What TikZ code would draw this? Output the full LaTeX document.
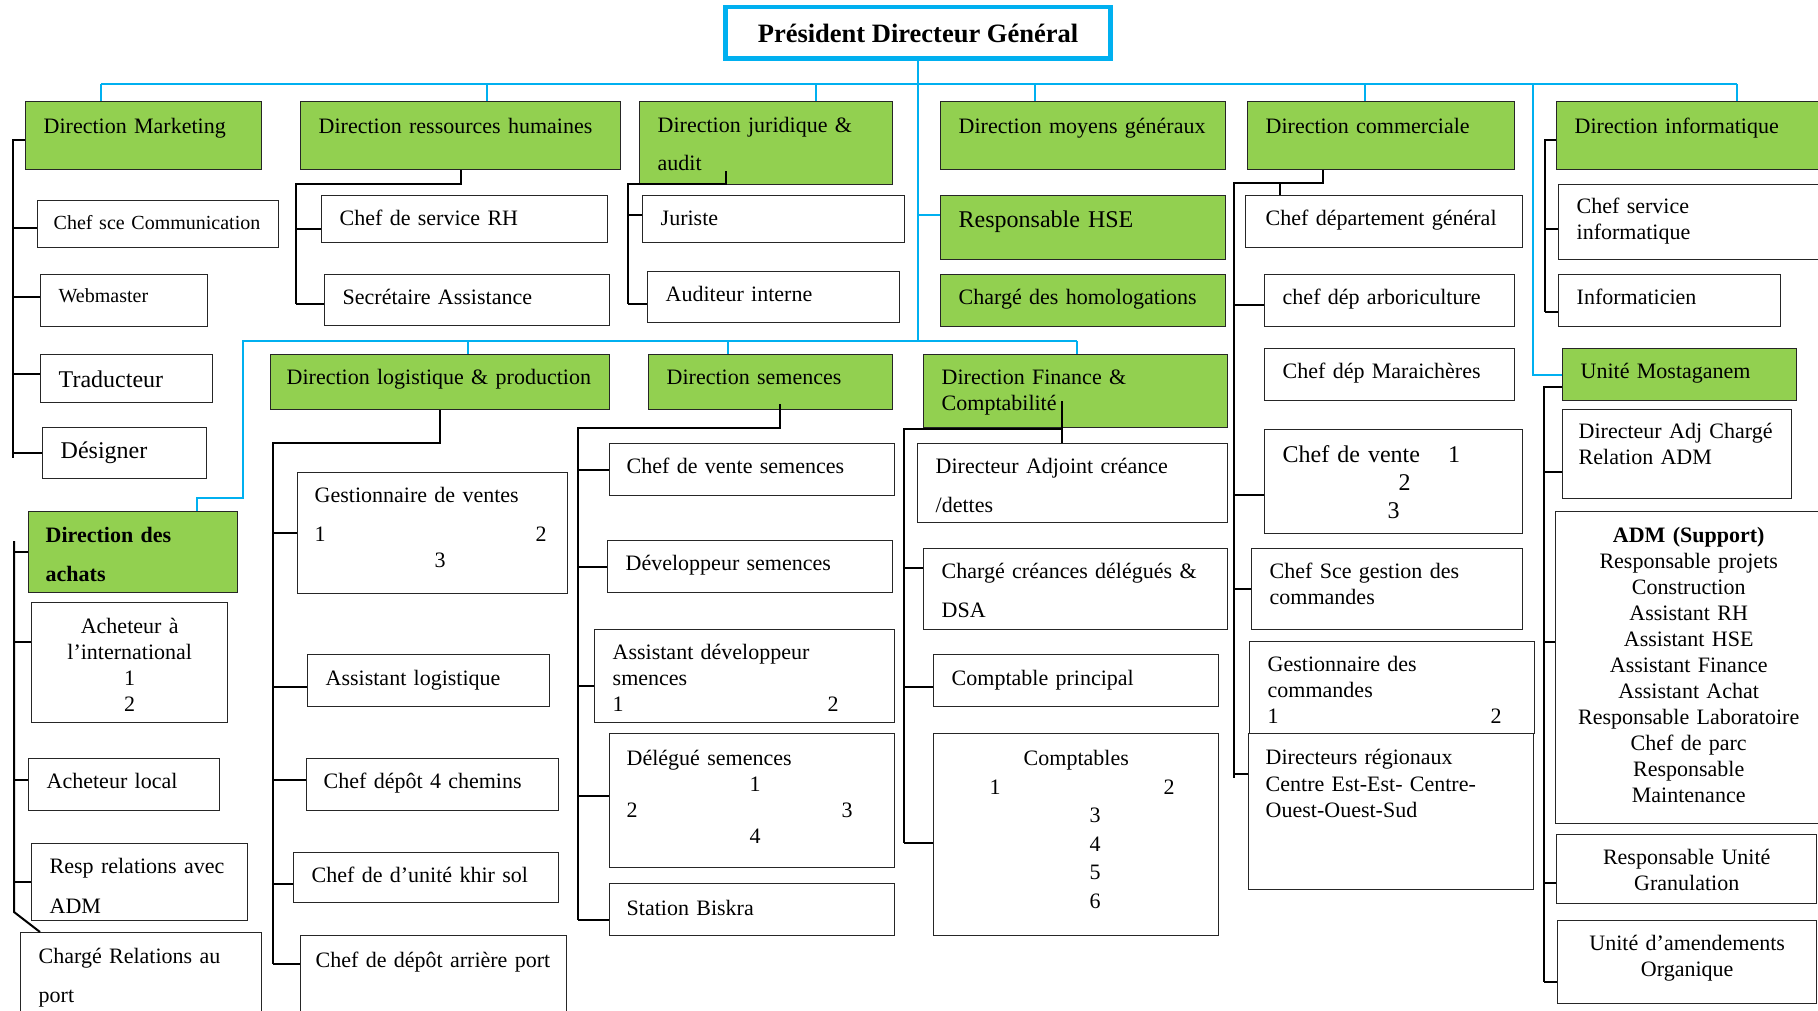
\documentclass[tikz,border=0pt]{standalone}
\usepackage{fontspec}
\setmainfont{Liberation Serif}
\definecolor{colorDir}{RGB}{146,208,80}
\definecolor{colorBleu}{RGB}{0,176,240}
\newcommand{\taille}[2]{\fontsize{#1}{#2}\selectfont}
\tikzstyle{poste} = [rectangle, draw=black!85, line width=1.4pt, fill=white, anchor=north west, align=left, inner xsep=18pt, inner ysep=0pt, font=\taille{22}{26}]
\tikzstyle{pole} = [poste, fill=colorDir]
\tikzstyle{chef} = [rectangle, draw=colorBleu, line width=4.5pt, fill=white, minimum width=385pt, minimum height=51.5pt, inner sep=0pt, font=\bfseries\taille{26.5}{30}]
\tikzstyle{lien} = [draw=black, line width=2pt]
\tikzstyle{lienbleu} = [draw=colorBleu, line width=2pt]

\begin{document}
\begin{tikzpicture}[x=1pt, y=-1pt]

	\useasboundingbox (0,0) rectangle (1818,1011);
	\fill[white] (0,0) rectangle (1818,1011);

	\node (pdg)[chef] at (918,33) {Président Directeur Général};

	% directions
	\node (mkt)[pole, text width=200pt, text height=32pt, text depth=36pt] at (25,101) {Direction Marketing};
	\node (rh)[pole, text width=284pt, text height=32pt, text depth=36pt] at (300,101) {Direction ressources humaines};
	\node (jur)[pole, text width=217pt, text height=31pt, text depth=52pt] at (639,101) {Direction juridique \&\\[12pt]audit};
	\node (moy)[pole, text width=249pt, text height=32pt, text depth=36pt] at (940,101) {Direction moyens généraux};
	\node (com)[pole, text width=231pt, text height=32pt, text depth=36pt] at (1247,101) {Direction commerciale};
	\node (info)[pole, text width=228pt, text height=32pt, text depth=36pt] at (1556,101) {Direction informatique};

	% marketing
	\node (comm)[poste, inner xsep=16pt, font=\taille{20}{24}, text width=209pt, text height=29pt, text depth=18pt] at (37,200) {Chef sce Communication};
	\node (web)[poste, font=\taille{20}{24}, text width=131pt, text height=28pt, text depth=24pt] at (40,274) {Webmaster};
	\node (trad)[poste, font=\taille{24}{28}, text width=136pt, text height=33pt, text depth=15pt] at (40,354) {Traducteur};
	\node (desi)[poste, font=\taille{24}{28}, text width=128pt, text height=31pt, text depth=20pt] at (42,427) {Désigner};

	% ressources humaines
	\node (csrh)[poste, text width=250pt, text height=30pt, text depth=17pt] at (321,195) {Chef de service RH};
	\node (sec)[poste, text width=249pt, text height=30pt, text depth=21pt] at (324,274) {Secrétaire Assistance};

	% juridique
	\node (juriste)[poste, text width=226pt, text height=30pt, text depth=17pt] at (642,195) {Juriste};
	\node (aud)[poste, text width=216pt, text height=30pt, text depth=21pt] at (647,271) {Auditeur interne};

	% moyens generaux
	\node (hse)[pole, font=\taille{24}{28}, text width=249pt, text height=32pt, text depth=32pt] at (940,195) {Responsable HSE};
	\node (homol)[pole, text width=249pt, text height=30pt, text depth=22pt] at (940,274) {Chargé des homologations};

	% commerciale
	\node (cdg)[poste, inner xsep=20pt, text width=237pt, text height=30pt, text depth=22pt] at (1245,195) {Chef département général};
	\node (arbo)[poste, text width=214pt, text height=30pt, text depth=22pt] at (1264,274) {chef dép arboriculture};
	\node (mara)[poste, text width=214pt, text height=30pt, text depth=22pt] at (1264,348) {Chef dép Maraichères};
	\node (cvte)[poste, font=\taille{24}{28}, text width=222pt, text height=33pt, text depth=71pt] at (1264,429) {Chef de vente\hspace*{28pt}1\\\hspace*{116pt}2\\\hspace*{105pt}3};
	\node (csgc)[poste, text width=235pt, text height=30pt, text depth=51pt] at (1251,548) {Chef Sce gestion des\\commandes};
	\node (gcom)[poste, text width=249pt, text height=30pt, text depth=62pt] at (1249,641) {Gestionnaire des\\commandes\\1\hspace*{212pt}2};
	\node (dreg)[poste, inner xsep=17pt, font=\taille{22}{26.5}, text width=251pt, text height=31pt, text depth=125pt] at (1248,733) {Directeurs régionaux\\Centre Est-Est- Centre-\\Ouest-Ouest-Sud};

	% informatique
	\node (csi)[poste, text width=224pt, text height=29pt, text depth=46pt] at (1558,184) {Chef service\\informatique};
	\node (infm)[poste, text width=186pt, text height=30pt, text depth=22pt] at (1558,274) {Informaticien};

	% unite mostaganem
	\node (most)[pole, text width=198pt, text height=30pt, text depth=22pt] at (1562,348) {Unité Mostaganem};
	\node (dadj)[poste, inner xsep=16pt, text width=197pt, text height=29pt, text depth=60pt] at (1562,409) {Directeur Adj Chargé\\Relation ADM};
	\node (adm)[poste, align=center, inner xsep=10pt, text width=246pt, text height=31pt, text depth=281pt] at (1555,511) {\textbf{ADM (Support)}\\Responsable projets\\Construction\\Assistant RH\\Assistant HSE\\Assistant Finance\\Assistant Achat\\Responsable Laboratoire\\Chef de parc\\Responsable\\Maintenance};
	\node (gran)[poste, align=center, text width=224pt, text height=30pt, text depth=39pt] at (1556,834) {Responsable Unité\\Granulation};
	\node (amend)[poste, align=center, text width=223pt, text height=30pt, text depth=53pt] at (1557,920) {Unité d’amendements\\Organique};

	% deuxieme rang
	\node (log)[pole, inner xsep=16pt, text width=307pt, text height=30pt, text depth=25pt] at (270,354) {Direction logistique \& production};
	\node (sem)[pole, text width=208pt, text height=30pt, text depth=25pt] at (648,354) {Direction semences};
	\node (fin)[pole, text width=268pt, text height=30pt, text depth=43pt] at (923,354) {Direction Finance \&\\Comptabilité};

	% achats
	\node (achats)[pole, inner xsep=17pt, font=\bfseries\taille{22}{26}, text width=175pt, text height=31pt, text depth=50pt] at (28,511) {Direction des\\[13pt]achats};
	\node (ainter)[poste, align=center, text width=160pt, text height=31pt, text depth=89pt] at (31,602) {Acheteur à\\l’international\\1\\2};
	\node (aloc)[poste, text width=155pt, text height=30pt, text depth=22pt] at (28,758) {Acheteur local};
	\node (resp)[poste, text width=180pt, text height=30pt, text depth=47pt] at (31,843) {Resp relations avec\\[14pt]ADM};
	\node (port)[poste, text width=205pt, text height=31pt, text depth=79pt] at (20,932) {Chargé Relations au\\[13pt]port};

	% logistique
	\node (gvte)[poste, inner xsep=17pt, text width=236pt, text height=30pt, text depth=91pt] at (297,472) {Gestionnaire de ventes\\[13pt]1\hspace*{210pt}2\\\hspace*{120pt}3};
	\node (alog)[poste, text width=206pt, text height=31pt, text depth=21pt] at (307,654) {Assistant logistique};
	\node (c4ch)[poste, inner xsep=17pt, text width=218pt, text height=30pt, text depth=22pt] at (306,758) {Chef dépôt 4 chemins};
	\node (khir)[poste, text width=229pt, text height=30pt, text depth=20pt] at (293,852) {Chef de d’unité khir sol};
	\node (arport)[poste, inner xsep=15pt, text width=236pt, text height=32pt, text depth=75pt] at (300,935) {Chef de dépôt arrière port};

	% semences
	\node (cvsem)[poste, inner xsep=17pt, text width=251pt, text height=30pt, text depth=22pt] at (609,443) {Chef de vente semences};
	\node (dsem)[poste, text width=249pt, text height=30pt, text depth=22pt] at (607,540) {Développeur semences};
	\node (adsem)[poste, text width=264pt, text height=30pt, text depth=63pt] at (594,629) {Assistant développeur\\smences\\1\hspace*{204pt}2};
	\node (deleg)[poste, inner xsep=17pt, text width=251pt, text height=32pt, text depth=102pt] at (609,733) {Délégué semences\\\hspace*{123pt}1\\2\hspace*{204pt}3\\\hspace*{123pt}4};
	\node (biskra)[poste, inner xsep=17pt, text width=251pt, text height=32pt, text depth=20pt] at (609,883) {Station Biskra};

	% finance
	\node (dadc)[poste, text width=274pt, text height=30pt, text depth=49pt] at (917,443) {Directeur Adjoint créance\\[13pt]/dettes};
	\node (ccd)[poste, text width=268pt, text height=30pt, text depth=51pt] at (923,548) {Chargé créances délégués \&\\[13pt]DSA};
	\node (cprinc)[poste, text width=249pt, text height=31pt, text depth=21pt] at (933,654) {Comptable principal};
	\node (compt)[poste, font=\taille{22}{28.5}, text width=249pt, text height=32pt, text depth=170pt] at (933,733) {\hspace*{72pt}Comptables\\\hspace*{38pt}1\hspace*{163pt}2\\\hspace*{138pt}3\\\hspace*{138pt}4\\\hspace*{138pt}5\\\hspace*{138pt}6};

	% lignes bleues
	\coordinate (busG) at (101,84);
	\coordinate (busD) at (1737,84);
	\coordinate (dMost) at (1533,84);
	\coordinate (bus2G) at (243,341);
	\coordinate (bus2D) at (1077,341);
	\coordinate (cAch) at (197,498);

	\draw[lienbleu] (busG) -- (busD);
	\draw[lienbleu] (pdg.south) -- (pdg.south |- bus2G);
	\draw[lienbleu] (busG) -- (busG |- mkt.north);
	\draw[lienbleu] ([xshift=26pt]rh.north) |- (busG);
	\draw[lienbleu] ([xshift=50pt]jur.north) |- (busG);
	\draw[lienbleu] ([xshift=-48pt]moy.north) |- (busG);
	\draw[lienbleu] ([xshift=-16pt]com.north) |- (busG);
	\draw[lienbleu] (busD) -- (busD |- info.north);
	\draw[lienbleu] (dMost) |- (most.west);
	\draw[lienbleu] ([yshift=13pt]hse.west) -| (pdg.south);
	\draw[lienbleu] (bus2D) -- (bus2G) |- (cAch) -- (cAch |- achats.north);
	\draw[lienbleu] ([xshift=28pt]log.north) |- (bus2G);
	\draw[lienbleu] ([xshift=-43pt]sem.north) |- (bus2G);
	\draw[lienbleu] (bus2D) -- (bus2D |- fin.north);

	% lignes noires
	\coordinate (mkH) at (13,140);
	\coordinate (mkB) at (13,458);
	\coordinate (rhH) at (296,184);
	\coordinate (rhB) at (296,304);
	\coordinate (jrH) at (628,184);
	\coordinate (jrB) at (628,304);
	\coordinate (cmH) at (1234,183);
	\coordinate (cmB) at (1234,778);
	\coordinate (ifH) at (1545,140);
	\coordinate (ifB) at (1545,312);
	\coordinate (moH) at (1544,387);
	\coordinate (moB) at (1544,982);
	\coordinate (acH) at (14,541);
	\coordinate (acB) at (14,912);
	\coordinate (lgH) at (273,443);
	\coordinate (lgB) at (273,964);
	\coordinate (smH) at (578,428);
	\coordinate (smB) at (578,920);
	\coordinate (fiB) at (904,843);

	\draw[lien] (mkH -| mkt.west) -- (mkH) -- (mkB);
	\draw[lien] ([yshift=-4pt]comm.west) -| (mkH);
	\draw[lien] ([yshift=4pt]web.west) -| (mkH);
	\draw[lien] ([yshift=5pt]trad.west) -| (mkH);
	\draw[lien] (desi.west) -| (mkH);

	\draw[lien] (rh.south) |- (rhH) -- (rhB);
	\draw[lien] ([yshift=-10pt]csrh.west) -| (rhH);
	\draw[lien] (rhB) -- (rhB -| sec.west);

	\draw[lien] ([xshift=-40pt,yshift=14pt]jur.south) |- (jrH) -- (jrB);
	\draw[lien] ([yshift=4pt]juriste.west) -| (jrH);
	\draw[lien] (jrB) -- (jrB -| aud.west);

	\draw[lien] ([xshift=-58pt]com.south) |- (cmH) -- (cmB);
	\draw[lien] ([xshift=-104pt]cdg.north) |- (cmH);
	\draw[lien] ([yshift=-4pt]arbo.west) -| (cmH);
	\draw[lien] ([yshift=-13pt]cvte.west) -| (cmH);
	\draw[lien] (csgc.west) -| (cmH);
	\draw[lien] ([yshift=38pt]dreg.west) -| (cmH);

	\draw[lien] (ifH -| info.west) -- (ifH) -- (ifB);
	\draw[lien] ([yshift=-7pt]csi.west) -| (ifH);
	\draw[lien] (ifB) -- (ifB -| infm.west);

	\draw[lien] (moH -| most.west) -- (moH) -- (moB);
	\draw[lien] ([yshift=-18pt]dadj.west) -| (moH);
	\draw[lien] ([yshift=26pt]adm.west) -| (moH);
	\draw[lien] ([yshift=-14pt]gran.west) -| (moH);
	\draw[lien] (moB) -- (moB -| amend.west);

	\draw[lien] (acH) -- (acB) -- ([xshift=20pt]port.north west);
	\draw[lien] (achats.west) -| (acH);
	\draw[lien] ([yshift=21pt]ainter.west) -| (acH);
	\draw[lien] ([yshift=5pt]aloc.west) -| (acH);
	\draw[lien] (resp.west) -| (acH);

	\draw[lien] (log.south) |- (lgH) -- (lgB);
	\draw[lien] (gvte.west) -| (lgH);
	\draw[lien] ([yshift=-6pt]alog.west) -| (lgH);
	\draw[lien] ([yshift=5pt]c4ch.west) -| (lgH);
	\draw[lien] ([yshift=-6pt]khir.west) -| (lgH);
	\draw[lien] (lgB) -- (lgB -| arport.west);

	\draw[lien] ([xshift=9pt,yshift=6pt]sem.south) |- (smH) -- (smB);
	\draw[lien] (cvsem.west) -| (smH);
	\draw[lien] (dsem.west) -| (smH);
	\draw[lien] ([yshift=-10pt]adsem.west) -| (smH);
	\draw[lien] ([yshift=5pt]deleg.west) -| (smH);
	\draw[lien] (smB) -- (smB -| biskra.west);

	\draw[lien] ([xshift=-14pt,yshift=27pt]fin.south) -- ([xshift=-11pt]dadc.north);
	\draw[lien] ([xshift=-11pt,yshift=14pt]dadc.north) -| (fiB);
	\draw[lien] ([yshift=21pt]ccd.west) -| (fiB);
	\draw[lien] ([yshift=-6pt]cprinc.west) -| (fiB);
	\draw[lien] (fiB) -- (fiB -| compt.west);

\end{tikzpicture}
\end{document}
